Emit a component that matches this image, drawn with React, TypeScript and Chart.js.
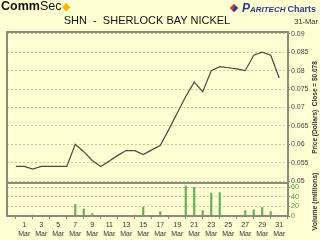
import React, { useEffect, useRef } from 'react';
import { Chart, registerables } from 'chart.js';

Chart.register(...registerables);

// ---- data ----
const days = [0, 1, 2, 3, 4, 5, 6, 7, 8, 9, 10, 11, 12, 13, 14, 15, 16, 17, 18, 19, 20, 21, 22, 23, 24, 25, 26, 27, 28, 29, 30, 31];
const closePrices = [
  0.054, 0.054, 0.0533, 0.054, 0.054, 0.054, 0.054, 0.06, 0.058, 0.0556, 0.054,
  0.0555, 0.057, 0.0583, 0.0583, 0.0572, 0.0585, 0.0597, 0.064, 0.0685, 0.073,
  0.0769, 0.0743, 0.08, 0.0811, 0.0808, 0.0805, 0.08, 0.0842, 0.085, 0.0842, 0.078,
];
const volumesMillions = [
  0, 0, 2, 0, 0, 0, 0, 24, 15, 5, 0, 0, 0, 0, 2, 18, 0, 9, 0, 0, 63, 60, 11, 48, 49, 0, 0, 11, 13, 18, 9, 0,
];
const priceTicks = [0.05, 0.055, 0.06, 0.065, 0.07, 0.075, 0.08, 0.085, 0.09];
const volumeTicks = [0, 20, 40, 60];
const dayTicks = [1, 3, 5, 7, 9, 11, 13, 15, 17, 19, 21, 23, 25, 27, 29, 31];
const monthLabel = 'Mar';
const lastClose = '0.078';
const chartTitle = 'SHN  -  SHERLOCK BAY NICKEL';
const dateLabel = '31-Mar';

const FONT = '"Liberation Sans", Arial, sans-serif';
const BG = '#FFFFD4';
const GRID = '#cfc690';

const framePlugin = {
  id: 'frame',
  afterDatasetsDraw(chart: any) {
    const { ctx, chartArea: a, scales } = chart;
    const split = scales.price.bottom;
    ctx.save();
    ctx.strokeStyle = '#8c8a78';
    ctx.lineWidth = 2;
    ctx.strokeRect(a.left, a.top, a.right - a.left, a.bottom - a.top);
    ctx.beginPath();
    ctx.moveTo(a.left, split);
    ctx.lineTo(a.right, split);
    ctx.stroke();

    ctx.fillStyle = '#333';
    ctx.font = `bold 6.5px ${FONT}`;
    ctx.textAlign = 'center';
    ctx.textBaseline = 'middle';
    const x = chart.width - 5;
    const drawRot = (t: string, cy: number) => {
      ctx.save();
      ctx.translate(x, cy);
      ctx.rotate(-Math.PI / 2);
      ctx.fillText(t, 0, 0);
      ctx.restore();
    };
    drawRot(`Price (Dollars)  Close = $${lastClose}`, (scales.price.top + scales.price.bottom) / 2);
    ctx.font = `bold 7px ${FONT}`;
    drawRot('Volume (millions)', (scales.volume.top + scales.volume.bottom) / 2 + 2);
    ctx.restore();
  },
};

export default function App() {
  const ref = useRef<HTMLCanvasElement | null>(null);

  useEffect(() => {
    if (!ref.current) return;
    const chart = new Chart(ref.current, {
      type: 'line',
      data: {
        datasets: [
          {
            type: 'line',
            data: days.map((d, i) => ({ x: d, y: closePrices[i] })),
            yAxisID: 'price',
            borderColor: '#4a4a42',
            borderWidth: 1.2,
            pointRadius: 0,
            tension: 0,
            fill: false,
          },
          {
            type: 'bar',
            data: days.map((d, i) => ({ x: d, y: volumesMillions[i] })),
            yAxisID: 'volume',
            backgroundColor: '#62b052',
            borderWidth: 0,
            barThickness: 1.5,
          } as any,
        ],
      },
      options: {
        responsive: false,
        animation: false,
        devicePixelRatio: 1,
        layout: { padding: { left: 7, top: 32, right: 0, bottom: 0 } },
        plugins: { legend: { display: false }, tooltip: { enabled: false }, title: { display: false } },
        scales: {
          x: {
            type: 'linear',
            min: 0,
            max: 31,
            afterBuildTicks: (s: any) => {
              s.ticks = dayTicks.map((v) => ({ value: v }));
            },
            afterFit: (s: any) => {
              s.height = 24;
            },
            grid: { drawOnChartArea: false, drawTicks: true, tickLength: 3, color: '#8c8a78' },
            border: { display: false },
            ticks: {
              autoSkip: false,
              maxRotation: 0,
              padding: 2,
              color: '#333',
              font: { family: FONT, size: 7 },
              callback: (v: any) => [String(v), monthLabel],
            },
          },
          price: {
            type: 'linear',
            position: 'right',
            stack: 'panels',
            stackWeight: 151,
            min: 0.0495,
            max: 0.0905,
            afterBuildTicks: (s: any) => {
              s.ticks = priceTicks.map((v) => ({ value: v }));
            },
            afterFit: (s: any) => {
              s.width = 32;
            },
            grid: { color: GRID, lineWidth: 1, tickLength: 2, tickColor: '#8c8a78', tickBorderDash: [] } as any,
            border: { display: false, dash: [2, 2] },
            ticks: {
              autoSkip: false,
              padding: 1,
              color: '#444',
              font: { family: FONT, size: 7 },
              callback: (v: any) => String(v),
            },
          },
          volume: {
            type: 'linear',
            position: 'right',
            stack: 'panels',
            stackWeight: 33,
            min: 0,
            max: 69,
            afterBuildTicks: (s: any) => {
              s.ticks = volumeTicks.map((v) => ({ value: v }));
            },
            afterFit: (s: any) => {
              s.width = 32;
            },
            grid: { color: GRID, lineWidth: 1, tickLength: 2, tickColor: '#8c8a78', tickBorderDash: [] } as any,
            border: { display: false, dash: [2, 2] },
            ticks: {
              autoSkip: false,
              padding: 1,
              color: '#3f9a3a',
              font: { family: FONT, size: 7 },
              callback: (v: any) => String(v),
            },
          },
        },
      } as any,
      plugins: [framePlugin],
    });
    return () => chart.destroy();
  }, []);

  return (
    <div
      style={{
        position: 'fixed',
        left: 0,
        top: 0,
        width: 320,
        height: 240,
        background: BG,
        overflow: 'hidden',
        fontFamily: FONT,
      }}
    >
      <canvas ref={ref} width={320} height={240} style={{ position: 'absolute', left: 0, top: 0, width: 320, height: 240 }} />
      <div style={{ position: 'absolute', left: 1, top: 0, fontSize: 12.5, lineHeight: '13px', color: '#111', whiteSpace: 'nowrap' }}>
        <span style={{ fontWeight: 'bold' }}>Comm</span>
        <span>Sec</span>
        <span style={{ color: '#F2B705', fontSize: 11, marginLeft: 1 }}>◆</span>
      </div>
      <div style={{ position: 'absolute', right: 4, top: 1, whiteSpace: 'nowrap', color: '#2B3990', lineHeight: '12px' }}>
        <span
          style={{
            display: 'inline-block',
            width: 6,
            height: 6,
            transform: 'rotate(45deg)',
            background: 'linear-gradient(90deg, #d23a2e 50%, #2B3990 50%)',
            marginRight: 5,
            verticalAlign: '1px',
          }}
        />
        <span style={{ fontStyle: 'italic', fontWeight: 'bold', fontVariant: 'small-caps', fontSize: 12 }}>Paritech</span>
        <span style={{ fontWeight: 'bold', fontSize: 9, marginLeft: 2 }}>Charts</span>
      </div>
      <div style={{ position: 'absolute', left: 0, width: 294, top: 15, textAlign: 'center', fontSize: 11, lineHeight: '11px', color: '#111', whiteSpace: 'pre' }}>
        {chartTitle}
      </div>
      <div style={{ position: 'absolute', right: 2, top: 18, fontSize: 7.5, lineHeight: '7.5px', color: '#333' }}>{dateLabel}</div>
    </div>
  );
}
